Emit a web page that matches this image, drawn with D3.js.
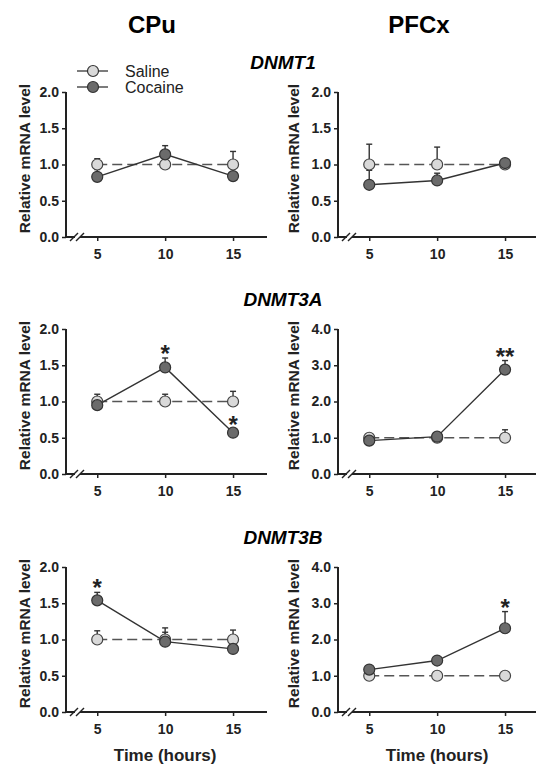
<!DOCTYPE html>
<html>
<head>
<meta charset="utf-8">
<script src="https://cdn.jsdelivr.net/npm/d3@7"></script>
<style>
  body { margin: 0; background: #fff; }
  svg { display: block; font-family: "Liberation Sans", Arial, sans-serif; }
</style>
</head>
<body>
<div id="chart"></div>
<script>
// data
const times = [5, 10, 15];
const regions = ["CPu", "PFCx"];
const genes = ["DNMT1", "DNMT3A", "DNMT3B"];
const groups = ["Saline", "Cocaine"];

// one entry per panel, row by row (CPu, PFCx)
const salineMean = [
  [1.0, 1.0, 1.0], [1.0, 1.0, 1.0],
  [1.0, 1.0, 1.0], [1.0, 1.0, 1.0],
  [1.0, 1.0, 1.0], [1.0, 1.0, 1.0]
];
const salineErr = [
  [0.08, 0.03, 0.18], [0.28, 0.24, 0.06],
  [0.10, 0.10, 0.14], [0.10, 0.05, 0.22],
  [0.12, 0.10, 0.13], [0.05, 0.05, 0.05]
];
const cocaineMean = [
  [0.83, 1.14, 0.84], [0.72, 0.78, 1.02],
  [0.95, 1.47, 0.57], [0.92, 1.03, 2.88],
  [1.54, 0.97, 0.87], [1.17, 1.42, 2.31]
];
const cocaineErr = [
  [0.10, 0.12, 0.05], [0.20, 0.10, 0.06],
  [0.10, 0.13, 0.05], [0.05, 0.05, 0.25],
  [0.11, 0.19, 0.05], [0.08, 0.08, 0.46]
];
const stars = [
  ["", "", ""], ["", "", ""],
  ["", "*", "*"], ["", "", "**"],
  ["*", "", ""], ["", "", "*"]
];
const yMax = [2, 2, 2, 4, 2, 4];
const yTicks2 = [0, 0.5, 1, 1.5, 2];
const yTicks4 = [0, 1, 2, 3, 4];

const W = 536, H = 767;
const colLeft = [66, 338];
const rowTop = [92, 329, 567];
const plotW = 201, plotH = 145;

const svg = d3.select("#chart").append("svg")
  .attr("width", W).attr("height", H);

const x = d3.scaleLinear().domain([2.7, 17.5]).range([0, plotW]);

// column titles
regions.forEach((r, i) => {
  svg.append("text")
    .attr("x", [152, 419][i]).attr("y", 33)
    .attr("text-anchor", "middle")
    .style("font-size", "24px").style("font-weight", "bold")
    .text(r);
});

// gene titles
genes.forEach((g, i) => {
  svg.append("text")
    .attr("x", 283).attr("y", rowTop[i] - 23)
    .attr("text-anchor", "middle")
    .style("font-size", "19px").style("font-weight", "bold")
    .style("font-style", "italic")
    .text(g);
});

const salColor = "#d9d9d9", cocColor = "#6b6b6b";

for (let p = 0; p < 6; p++) {
  const row = Math.floor(p / 2), col = p % 2;
  const g = svg.append("g")
    .attr("transform", `translate(${colLeft[col]}, ${rowTop[row]})`);

  const y = d3.scaleLinear().domain([0, yMax[p]]).range([plotH, 0]);

  // y axis
  const yAxis = d3.axisLeft(y)
    .tickValues(yMax[p] === 4 ? yTicks4 : yTicks2)
    .tickFormat(d3.format(".1f"))
    .tickSize(4).tickPadding(3);
  const ya = g.append("g").call(yAxis);
  ya.select(".domain").attr("d", `M0,0V${plotH}`).attr("stroke-width", 2).attr("stroke", "#222");
  ya.selectAll(".tick line").attr("stroke-width", 1.5).attr("stroke", "#222");
  ya.selectAll(".tick text")
    .style("font-size", "14px").style("font-weight", "bold")
    .style("font-family", "Liberation Sans, Arial, sans-serif").attr("fill", "#222");

  // x axis
  const xAxis = d3.axisBottom(x).tickValues(times).tickSize(4).tickPadding(8);
  const xa = g.append("g").attr("transform", `translate(0, ${plotH})`).call(xAxis);
  xa.select(".domain").attr("d", `M0,0H${plotW}`).attr("stroke-width", 2).attr("stroke", "#222");
  xa.selectAll(".tick line").attr("stroke-width", 1.5).attr("stroke", "#222");
  xa.selectAll(".tick text")
    .style("font-size", "14px").style("font-weight", "bold")
    .style("font-family", "Liberation Sans, Arial, sans-serif").attr("fill", "#222");

  // axis break
  const brk = g.append("g").attr("transform", `translate(11, ${plotH})`);
  brk.append("rect").attr("x", -2).attr("y", -2).attr("width", 5).attr("height", 4).attr("fill", "#fff");
  [-3, 3].forEach((dx) => {
    brk.append("line")
      .attr("x1", dx - 4).attr("y1", 4).attr("x2", dx + 4).attr("y2", -4)
      .attr("stroke", "#222").attr("stroke-width", 1.5);
  });

  // y title
  g.append("text")
    .attr("transform", `translate(${col === 0 ? -41 : -44}, ${plotH / 2 - 6}) rotate(-90)`)
    .attr("text-anchor", "middle")
    .attr("dy", "0.35em")
    .style("font-size", "15.5px").style("font-weight", "bold")
    .attr("fill", "#222")
    .text("Relative mRNA level");

  const sal = times.map((t, i) => ({ t, v: salineMean[p][i], e: salineErr[p][i] }));
  const coc = times.map((t, i) => ({ t, v: cocaineMean[p][i], e: cocaineErr[p][i], s: stars[p][i] }));

  const line = d3.line().x((d) => x(d.t)).y((d) => y(d.v));

  g.append("path").datum(sal).attr("d", line)
    .attr("fill", "none").attr("stroke", "#555").attr("stroke-width", 1.6)
    .attr("stroke-dasharray", "10,5");
  g.append("path").datum(coc).attr("d", line)
    .attr("fill", "none").attr("stroke", "#333").attr("stroke-width", 1.4);

  // error bars (upper only)
  [sal, coc].forEach((series) => {
    const eb = g.append("g").selectAll("g").data(series).enter().append("g");
    eb.append("line")
      .attr("x1", (d) => x(d.t)).attr("x2", (d) => x(d.t))
      .attr("y1", (d) => y(d.v)).attr("y2", (d) => y(d.v + d.e))
      .attr("stroke", "#333").attr("stroke-width", 1.4);
    eb.append("line")
      .attr("x1", (d) => x(d.t) - 3).attr("x2", (d) => x(d.t) + 3)
      .attr("y1", (d) => y(d.v + d.e)).attr("y2", (d) => y(d.v + d.e))
      .attr("stroke", "#333").attr("stroke-width", 1.4);
  });

  g.selectAll(".sal").data(sal).enter().append("circle")
    .attr("class", "sal")
    .attr("cx", (d) => x(d.t)).attr("cy", (d) => y(d.v)).attr("r", 5.5)
    .attr("fill", salColor).attr("stroke", "#444").attr("stroke-width", 1.2);
  g.selectAll(".coc").data(coc).enter().append("circle")
    .attr("class", "coc")
    .attr("cx", (d) => x(d.t)).attr("cy", (d) => y(d.v)).attr("r", 5.5)
    .attr("fill", cocColor).attr("stroke", "#333").attr("stroke-width", 1.2);

  g.selectAll(".star").data(coc.filter((d) => d.s)).enter().append("text")
    .attr("class", "star")
    .attr("x", (d) => x(d.t)).attr("y", (d) => y(d.v + d.e) + 4)
    .attr("text-anchor", "middle")
    .style("font-size", "24px").style("font-weight", "bold")
    .attr("fill", "#222")
    .text((d) => d.s);
}

// x titles
[0, 1].forEach((c) => {
  svg.append("text")
    .attr("x", colLeft[c] + x(10)).attr("y", 761)
    .attr("text-anchor", "middle")
    .style("font-size", "17px").style("font-weight", "bold")
    .attr("fill", "#222")
    .text("Time (hours)");
});

// legend
const legend = svg.append("g").attr("transform", "translate(77, 71)");
groups.forEach((name, i) => {
  const ly = i * 16;
  legend.append("line")
    .attr("x1", 0).attr("x2", 31).attr("y1", ly).attr("y2", ly)
    .attr("stroke", "#444").attr("stroke-width", 1.4);
  legend.append("circle")
    .attr("cx", 16).attr("cy", ly).attr("r", 5.5)
    .attr("fill", i === 0 ? salColor : cocColor)
    .attr("stroke", "#333").attr("stroke-width", 1.2);
  legend.append("text")
    .attr("x", 48).attr("y", ly).attr("dy", "0.35em")
    .style("font-size", "16px")
    .attr("fill", "#222")
    .text(name);
});
</script>
</body>
</html>
